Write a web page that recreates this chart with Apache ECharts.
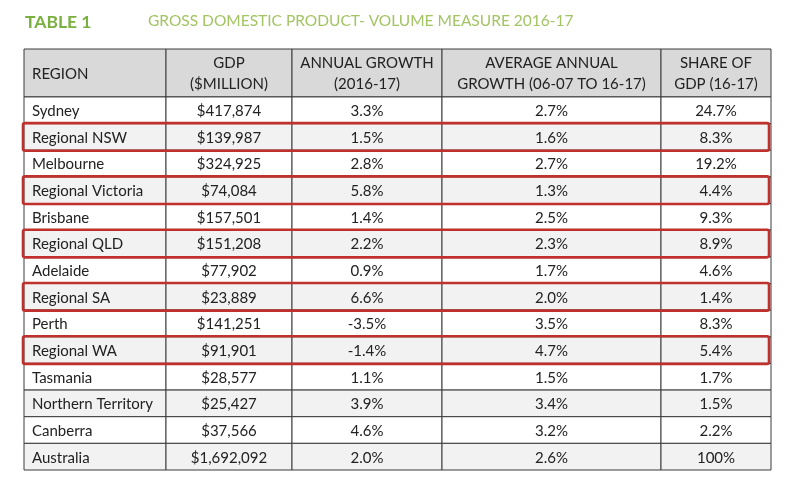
<!DOCTYPE html>
<html><head><meta charset="utf-8">
<script src="https://cdn.jsdelivr.net/npm/echarts@6/dist/echarts.min.js"></script>
<style>html,body{margin:0;padding:0;background:#fff}#c{width:801px;height:489px}</style>
</head><body><div id="c"></div>
<script>
// ---- data ----
const tableLabel = 'TABLE 1';
const tableTitle = 'GROSS DOMESTIC PRODUCT- VOLUME MEASURE 2016-17';
const headers = ['REGION', 'GDP\n($MILLION)', 'ANNUAL GROWTH\n(2016-17)', 'AVERAGE ANNUAL\nGROWTH (06-07 TO 16-17)', 'SHARE OF\nGDP (16-17)'];
const regions = ['Sydney','Regional NSW','Melbourne','Regional Victoria','Brisbane','Regional QLD','Adelaide','Regional SA','Perth','Regional WA','Tasmania','Northern Territory','Canberra','Australia'];
const gdp = ['$417,874','$139,987','$324,925','$74,084','$157,501','$151,208','$77,902','$23,889','$141,251','$91,901','$28,577','$25,427','$37,566','$1,692,092'];
const annualGrowth = ['3.3%','1.5%','2.8%','5.8%','1.4%','2.2%','0.9%','6.6%','-3.5%','-1.4%','1.1%','3.9%','4.6%','2.0%'];
const avgGrowth = ['2.7%','1.6%','2.7%','1.3%','2.5%','2.3%','1.7%','2.0%','3.5%','4.7%','1.5%','3.4%','3.2%','2.6%'];
const share = ['24.7%','8.3%','19.2%','4.4%','9.3%','8.9%','4.6%','1.4%','8.3%','5.4%','1.7%','1.5%','2.2%','100%'];
const highlighted = ['Regional NSW','Regional Victoria','Regional QLD','Regional SA','Regional WA'];

// ---- layout (not data) ----
const colEdges = [0, 142, 268, 418, 637, 747];
const HEADER_UNITS = 1.8;
const FONT = 'Lato, "Open Sans", sans-serif';

const columns = [regions, gdp, annualGrowth, avgGrowth, share];
const cells = [];
headers.forEach((h, c) => cells.push({ value: [c, -1], text: h }));
regions.forEach((r, i) => columns.forEach((col, c) => cells.push({ value: [c, i], text: col[i] })));
const boxes = regions.map((r, i) => i).filter(i => highlighted.includes(regions[i])).map(i => ({ value: [i] }));

function rowTop(r) { return r < 0 ? 0 : HEADER_UNITS + r; }
function rowBottom(r) { return r < 0 ? HEADER_UNITS : HEADER_UNITS + r + 1; }

const chart = echarts.init(document.getElementById('c'), null, { renderer: 'canvas' });
chart.setOption({
  animation: false,
  backgroundColor: '#ffffff',
  title: [
    { text: tableLabel, left: 25, top: 13, padding: 0, textStyle: { color: '#79b03f', fontSize: 17.5, fontWeight: 'bold', fontFamily: FONT } },
    { text: tableTitle, left: 148, top: 13, padding: 0, textStyle: { color: '#a2c463', fontSize: 15.5, fontWeight: 'normal', fontFamily: FONT } }
  ],
  grid: { left: 24, top: 49, width: 747, height: 421 },
  xAxis: { type: 'value', min: 0, max: colEdges[colEdges.length - 1], show: false },
  yAxis: { type: 'value', min: 0, max: HEADER_UNITS + regions.length, inverse: true, show: false },
  series: [
    {
      type: 'custom',
      coordinateSystem: 'cartesian2d',
      data: cells,
      encode: { x: 0, y: 1 },
      renderItem: function (params, api) {
        const c = api.value(0), r = api.value(1);
        const item = cells[params.dataIndex];
        const p0 = api.coord([colEdges[c], rowTop(r)]);
        const p1 = api.coord([colEdges[c + 1], rowBottom(r)]);
        const fill = r < 0 ? '#d9d9d9' : (r % 2 === 1 ? '#f2f2f2' : '#ffffff');
        const leftAlign = c === 0;
        return {
          type: 'group',
          children: [
            { type: 'rect', shape: { x: p0[0], y: p0[1], width: p1[0] - p0[0], height: p1[1] - p0[1] },
              style: { fill: fill, stroke: '#3c3c3c', lineWidth: 1 } },
            { type: 'text',
              x: leftAlign ? p0[0] + 8 : (p0[0] + p1[0]) / 2,
              y: (p0[1] + p1[1]) / 2 + 1,
              style: { text: item.text, fill: '#222222', font: '15px ' + FONT,
                align: leftAlign ? 'left' : 'center', verticalAlign: 'middle', lineHeight: 21 } }
          ]
        };
      },
      z: 2
    },
    {
      type: 'custom',
      coordinateSystem: 'cartesian2d',
      data: boxes,
      encode: { y: 0 },
      renderItem: function (params, api) {
        const r = api.value(0);
        const p0 = api.coord([0, rowTop(r)]);
        const p1 = api.coord([colEdges[colEdges.length - 1], rowBottom(r)]);
        return { type: 'rect', shape: { x: p0[0] - 1, y: p0[1] - 0.5, width: p1[0] - p0[0] - 1, height: p1[1] - p0[1] + 1, r: 2 },
          style: { fill: 'none', stroke: '#c0302c', lineWidth: 2.6 } };
      },
      z: 5
    }
  ]
});
</script></body></html>
